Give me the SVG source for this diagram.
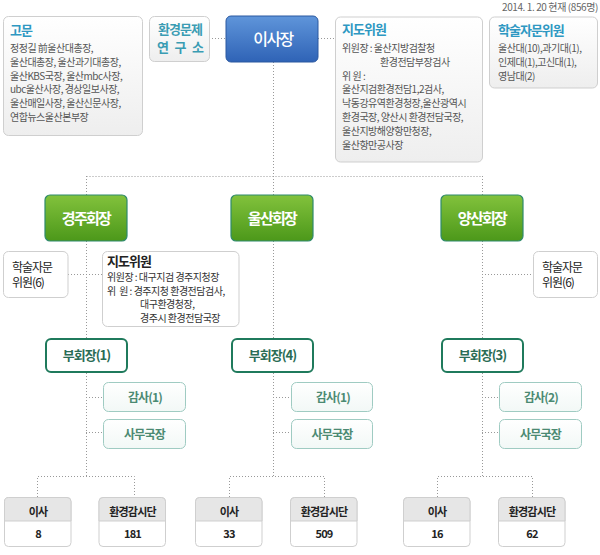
<svg xmlns="http://www.w3.org/2000/svg" width="600" height="555" viewBox="0 0 600 555">
<defs>
<linearGradient id="gGray" x1="0" y1="0" x2="0" y2="1"><stop offset="0" stop-color="#ffffff"/><stop offset="1" stop-color="#eeeeee"/></linearGradient>
<linearGradient id="gBlue" x1="0" y1="0" x2="0" y2="1"><stop offset="0" stop-color="#5f95da"/><stop offset="1" stop-color="#2f63b6"/></linearGradient>
<linearGradient id="gGreen" x1="0" y1="0" x2="0" y2="1"><stop offset="0" stop-color="#82c23c"/><stop offset="1" stop-color="#4c981a"/></linearGradient>
<linearGradient id="gMint" x1="0" y1="0" x2="0" y2="1"><stop offset="0" stop-color="#ffffff"/><stop offset="1" stop-color="#f2f8f6"/></linearGradient>
<style>
text{font-family:"Noto Sans CJK KR","Noto Sans",sans-serif;}
.box{fill:url(#gGray);stroke:#cfcfcf;stroke-width:1;}
.wbox{fill:#ffffff;stroke:#cfcfcf;stroke-width:1;}
.blue{fill:url(#gBlue);stroke:#2a58a0;stroke-width:1;}
.green{fill:url(#gGreen);stroke:#2e8a6c;stroke-width:1.2;}
.vice{fill:#ffffff;stroke:#1f7a5c;stroke-width:2;}
.sub{fill:url(#gMint);stroke:#9fcbc2;stroke-width:1;}
.title{font-size:13px;font-weight:bold;fill:#2e98c2;letter-spacing:-1px;}
.body{font-size:10px;fill:#555555;letter-spacing:-0.5px;}
.bodyd{font-size:10px;fill:#333333;letter-spacing:-0.5px;}
.white{fill:#ffffff;font-weight:bold;text-anchor:middle;}
.vt{font-size:13px;font-weight:bold;fill:#2b6c55;text-anchor:middle;letter-spacing:-1px;}
.st{font-size:12px;font-weight:bold;fill:#4b8a72;text-anchor:middle;letter-spacing:-0.8px;}
.bt{font-size:11px;font-weight:bold;fill:#222222;text-anchor:middle;letter-spacing:-0.8px;}
.cn{fill:none;stroke:#999999;stroke-width:1;stroke-dasharray:1 2;}
</style>
</defs>
<rect width="600" height="555" fill="#ffffff"/>

<g id="connectors">
<line class="cn" x1="209" y1="38.5" x2="226" y2="38.5"/>
<line class="cn" x1="318" y1="38.5" x2="335" y2="38.5"/>
<line class="cn" x1="273.5" y1="62" x2="273.5" y2="195"/>
<line class="cn" x1="86.5" y1="176.5" x2="482.5" y2="176.5"/>
<line class="cn" x1="86.5" y1="176" x2="86.5" y2="195"/>
<line class="cn" x1="482.5" y1="176" x2="482.5" y2="195"/>
<line class="cn" x1="86.5" y1="241" x2="86.5" y2="476"/>
<line class="cn" x1="273.5" y1="241" x2="273.5" y2="476"/>
<line class="cn" x1="482.5" y1="241" x2="482.5" y2="476"/>
<line class="cn" x1="68" y1="274.5" x2="102" y2="274.5"/>
<line class="cn" x1="482" y1="274.5" x2="533" y2="274.5"/>
<line class="cn" x1="86" y1="397.5" x2="103" y2="397.5"/>
<line class="cn" x1="86" y1="432.5" x2="103" y2="432.5"/>
<line class="cn" x1="273" y1="397.5" x2="291" y2="397.5"/>
<line class="cn" x1="273" y1="432.5" x2="291" y2="432.5"/>
<line class="cn" x1="482" y1="397.5" x2="499" y2="397.5"/>
<line class="cn" x1="482" y1="432.5" x2="499" y2="432.5"/>
<polyline class="cn" points="37.5,497 37.5,476.5 134.5,476.5 134.5,497"/>
<polyline class="cn" points="229.5,497 229.5,476.5 324.5,476.5 324.5,497"/>
<polyline class="cn" points="437.5,497 437.5,476.5 532.5,476.5 532.5,497"/>
</g>

<text x="598" y="10.5" font-size="10" fill="#666666" text-anchor="end" letter-spacing="-0.4">2014. 1. 20 현재 (856명)</text>

<g id="advisor">
<rect class="box" x="3.5" y="16.5" width="139" height="119" rx="5"/>
<text class="title" x="10" y="35">고문</text>
<text class="body" x="10" y="52">정정길 前울산대총장,</text>
<text class="body" x="10" y="65.8">울산대총장, 울산과기대총장,</text>
<text class="body" x="10" y="79.6">울산KBS국장, 울산mbc사장,</text>
<text class="body" x="10" y="93.4">ubc울산사장, 경상일보사장,</text>
<text class="body" x="10" y="107.2">울산매일사장, 울산신문사장,</text>
<text class="body" x="10" y="121">연합뉴스울산본부장</text>
</g>

<g id="env-institute">
<rect class="box" x="149.5" y="16.5" width="60" height="45" rx="5"/>
<text class="title" x="180" y="34" text-anchor="middle" style="fill:#3a9cb3">환경문제</text>
<text class="title" y="52" text-anchor="middle" style="fill:#3a9cb3"><tspan x="162.5">연</tspan><tspan x="180">구</tspan><tspan x="197.5">소</tspan></text>
</g>

<g id="chairman">
<rect class="blue" x="226" y="16" width="92" height="46" rx="5"/>
<text class="white" x="273" y="45" font-size="16" letter-spacing="-1.5" style="font-weight:500">이사장</text>
</g>

<g id="guidance-top">
<rect class="box" x="335.5" y="17" width="147" height="145" rx="5"/>
<text class="title" x="342" y="34">지도위원</text>
<text class="body" x="342" y="52">위원장 : 울산지방검찰청</text>
<text class="body" x="380" y="65.8">환경전담부장검사</text>
<text class="body" x="342" y="79.6">위 원 :</text>
<text class="body" x="342" y="93.4">울산지검환경전담1,2검사,</text>
<text class="body" x="342" y="107.2">낙동강유역환경청장,울산광역시</text>
<text class="body" x="342" y="121">환경국장, 양산시 환경전담국장,</text>
<text class="body" x="342" y="134.8">울산지방해양항만청장,</text>
<text class="body" x="342" y="148.6">울산항만공사장</text>
</g>

<g id="academic-top">
<rect class="box" x="489.5" y="17" width="108" height="71" rx="5"/>
<text class="title" x="498" y="35">학술자문위원</text>
<text class="body" x="498" y="52">울산대(10),과기대(1),</text>
<text class="body" x="498" y="65.8">인제대(1),고신대(1),</text>
<text class="body" x="498" y="79.6">영남대(2)</text>
</g>

<g id="gyeongju">
<rect class="green" x="45" y="195" width="82" height="46" rx="5"/>
<text class="white" x="86" y="223.5" font-size="15" letter-spacing="-1.7">경주회장</text>
</g>
<g id="ulsan">
<rect class="green" x="231" y="195" width="82" height="46" rx="5"/>
<text class="white" x="272" y="223.5" font-size="15" letter-spacing="-1.7">울산회장</text>
</g>
<g id="yangsan">
<rect class="green" x="441" y="195" width="82" height="46" rx="5"/>
<text class="white" x="482" y="223.5" font-size="15" letter-spacing="-1.7">양산회장</text>
</g>

<g id="academic-left">
<rect class="wbox" x="3.5" y="251.5" width="64.5" height="46" rx="5"/>
<text x="12" y="271.5" font-size="12" fill="#222222" letter-spacing="-1">학술자문</text>
<text x="12" y="287" font-size="12" fill="#222222" letter-spacing="-1">위원(6)</text>
</g>

<g id="guidance-gyeongju">
<rect class="wbox" x="102.5" y="251.5" width="136.5" height="75" rx="5"/>
<text x="107" y="265.5" font-size="13" font-weight="bold" fill="#222222" letter-spacing="-1">지도위원</text>
<text class="bodyd" x="107" y="281">위원장 : 대구지검 경주지청장</text>
<text class="bodyd" x="107" y="294.7" xml:space="preserve">위  원 : 경주지청 환경전담검사,</text>
<text class="bodyd" x="140" y="308.4">대구환경청장,</text>
<text class="bodyd" x="140" y="322.1">경주시 환경전담국장</text>
</g>

<g id="academic-right">
<rect class="wbox" x="533.5" y="251.5" width="64" height="46" rx="5"/>
<text x="542" y="271.5" font-size="12" fill="#222222" letter-spacing="-1">학술자문</text>
<text x="542" y="287" font-size="12" fill="#222222" letter-spacing="-1">위원(6)</text>
</g>

<g id="vice1">
<rect class="vice" x="46" y="339" width="81" height="33" rx="5"/>
<text class="vt" x="86.5" y="360">부회장(1)</text>
</g>
<g id="vice4">
<rect class="vice" x="232" y="339" width="81" height="33" rx="5"/>
<text class="vt" x="272.5" y="360">부회장(4)</text>
</g>
<g id="vice3">
<rect class="vice" x="442" y="339" width="81" height="33" rx="5"/>
<text class="vt" x="482.5" y="360">부회장(3)</text>
</g>

<g id="audit-gj">
<rect class="sub" x="103.5" y="382.5" width="82" height="29" rx="5"/>
<text class="st" x="145" y="401.5">감사(1)</text>
</g>
<g id="sec-gj">
<rect class="sub" x="103.5" y="419.5" width="82" height="29" rx="5"/>
<text class="st" x="144.5" y="438.5">사무국장</text>
</g>
<g id="audit-us">
<rect class="sub" x="291.5" y="382.5" width="81" height="29" rx="5"/>
<text class="st" x="333" y="401.5">감사(1)</text>
</g>
<g id="sec-us">
<rect class="sub" x="291.5" y="419.5" width="81" height="29" rx="5"/>
<text class="st" x="332" y="438.5">사무국장</text>
</g>
<g id="audit-ys">
<rect class="sub" x="499.5" y="382.5" width="82" height="29" rx="5"/>
<text class="st" x="541" y="401.5">감사(2)</text>
</g>
<g id="sec-ys">
<rect class="sub" x="499.5" y="419.5" width="82" height="29" rx="5"/>
<text class="st" x="540.5" y="438.5">사무국장</text>
</g>

<g id="gj-directors">
<rect class="wbox" x="4.5" y="497.5" width="66.5" height="49" rx="4"/>
<path d="M4.5,521 V501.5 a4,4 0 0 1 4,-4 H67 a4,4 0 0 1 4,4 V521 Z" fill="#e6e6e6" stroke="#cfcfcf"/>
<text class="bt" x="38" y="515.5">이사</text>
<text class="bt" x="38" y="537.5">8</text>
</g>
<g id="gj-watch">
<rect class="wbox" x="99" y="497.5" width="66.5" height="49" rx="4"/>
<path d="M99,521 V501.5 a4,4 0 0 1 4,-4 H161.5 a4,4 0 0 1 4,4 V521 Z" fill="#e6e6e6" stroke="#cfcfcf"/>
<text class="bt" x="132.5" y="515.5">환경감시단</text>
<text class="bt" x="132.5" y="537.5">181</text>
</g>
<g id="us-directors">
<rect class="wbox" x="195.5" y="497.5" width="66.5" height="49" rx="4"/>
<path d="M195.5,521 V501.5 a4,4 0 0 1 4,-4 H258 a4,4 0 0 1 4,4 V521 Z" fill="#e6e6e6" stroke="#cfcfcf"/>
<text class="bt" x="229" y="515.5">이사</text>
<text class="bt" x="229" y="537.5">33</text>
</g>
<g id="us-watch">
<rect class="wbox" x="290.5" y="497.5" width="66.5" height="49" rx="4"/>
<path d="M290.5,521 V501.5 a4,4 0 0 1 4,-4 H353 a4,4 0 0 1 4,4 V521 Z" fill="#e6e6e6" stroke="#cfcfcf"/>
<text class="bt" x="324" y="515.5">환경감시단</text>
<text class="bt" x="324" y="537.5">509</text>
</g>
<g id="ys-directors">
<rect class="wbox" x="403.5" y="497.5" width="66.5" height="49" rx="4"/>
<path d="M403.5,521 V501.5 a4,4 0 0 1 4,-4 H466 a4,4 0 0 1 4,4 V521 Z" fill="#e6e6e6" stroke="#cfcfcf"/>
<text class="bt" x="437" y="515.5">이사</text>
<text class="bt" x="437" y="537.5">16</text>
</g>
<g id="ys-watch">
<rect class="wbox" x="498.5" y="497.5" width="66.5" height="49" rx="4"/>
<path d="M498.5,521 V501.5 a4,4 0 0 1 4,-4 H561 a4,4 0 0 1 4,4 V521 Z" fill="#e6e6e6" stroke="#cfcfcf"/>
<text class="bt" x="532" y="515.5">환경감시단</text>
<text class="bt" x="532" y="537.5">62</text>
</g>
</svg>
